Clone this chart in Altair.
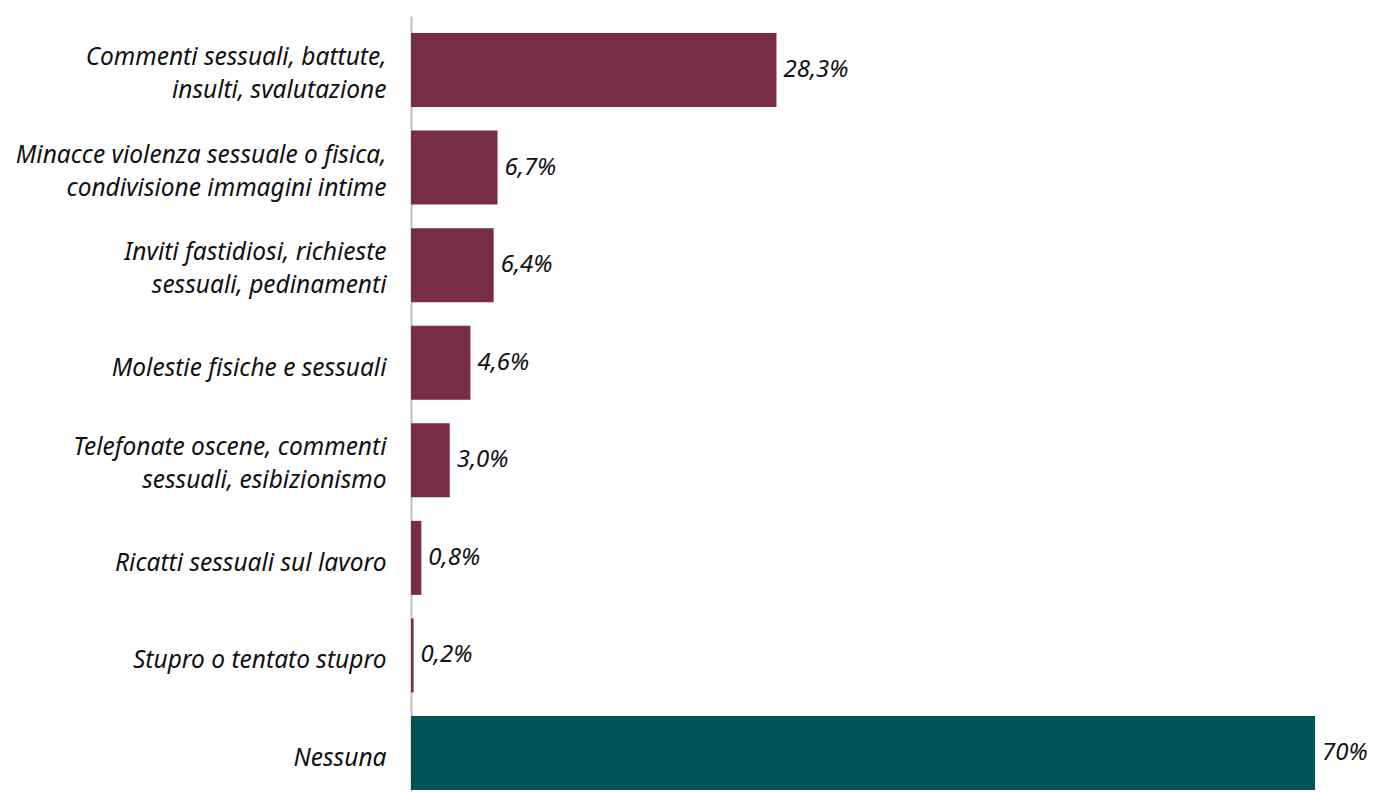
import altair as alt
import pandas as pd

categories = [
    "Commenti sessuali, battute,|insulti, svalutazione",
    "Minacce violenza sessuale o fisica,|condivisione immagini intime",
    "Inviti fastidiosi, richieste|sessuali, pedinamenti",
    "Molestie fisiche e sessuali",
    "Telefonate oscene, commenti|sessuali, esibizionismo",
    "Ricatti sessuali sul lavoro",
    "Stupro o tentato stupro",
    "Nessuna",
]
values = [28.3, 6.7, 6.4, 4.6, 3.0, 0.8, 0.2, 70]
value_labels = ["28,3%", "6,7%", "6,4%", "4,6%", "3,0%", "0,8%", "0,2%", "70%"]
groups = ["Molestie"] * 7 + ["Nessuna"]
group_names = ["Molestie", "Nessuna"]
group_colors = ["#772D45", "#005456"]

df = pd.DataFrame({"cat": categories, "val": values, "lab": value_labels, "grp": groups})

FONT = "Noto Sans"
FS = 24.5

base = alt.Chart(df).encode(
    y=alt.Y(
        "cat:N",
        sort=categories,
        scale=alt.Scale(paddingInner=0.2416, paddingOuter=0.0925, align=0.944),
        axis=alt.Axis(
            title=None,
            ticks=False,
            domainColor="#BFBFBF",
            domainWidth=2,
            labelExpr="split(datum.label, '|')",
            labelFont=FONT,
            labelFontStyle="italic",
            labelFontSize=FS,
            labelColor="#111111",
            labelPadding=25,
            labelLineHeight=33,
            labelLimit=0,
            labelOffset={
                "condition": {"test": "indexof(datum.value, '|') >= 0", "value": -12},
                "value": 6,
            },
        ),
    )
)

bars = base.mark_bar().encode(
    x=alt.X("val:Q", scale=alt.Scale(domain=[0, 70]), axis=None),
    color=alt.Color("grp:N", scale=alt.Scale(domain=group_names, range=group_colors), legend=None),
)

text = base.mark_text(
    align="left", baseline="middle", dx=7, font=FONT, fontStyle="italic", fontSize=24, color="#111111"
).encode(x=alt.X("val:Q"), text="lab:N")

chart = (
    (bars + text)
    .properties(
        width=904,
        height=775,
        padding={"left": 403, "top": 8, "right": 52, "bottom": 0},
        autosize=alt.AutoSizeParams(type="none"),
    )
    .configure_view(stroke=None)
)

chart.save("out.html", embed_options={"renderer": "svg", "actions": False})
